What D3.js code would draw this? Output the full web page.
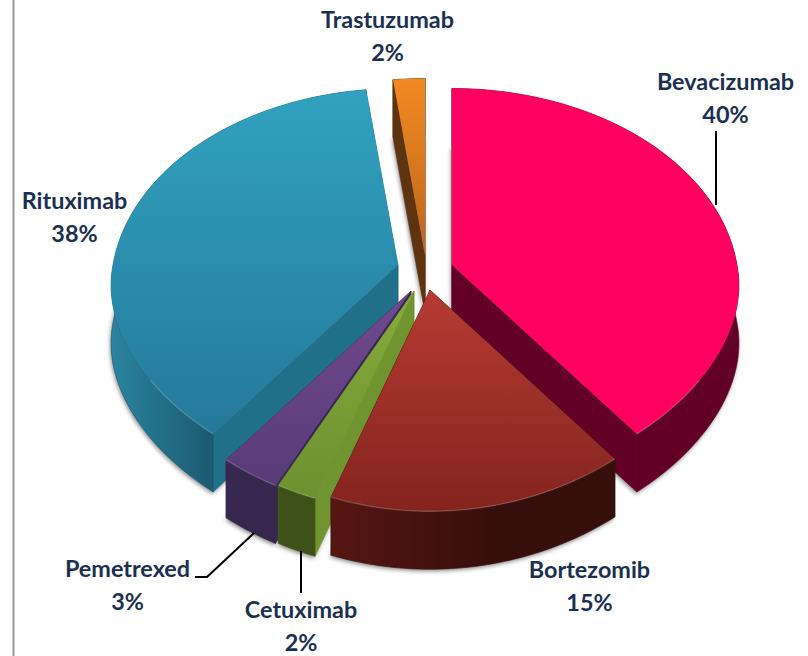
<!DOCTYPE html>
<html>
<head>
<meta charset="utf-8">
<script src="https://cdn.jsdelivr.net/npm/d3@7"></script>
<style>
  html, body { margin: 0; padding: 0; background: #fff; }
  svg { display: block; }
  text { font-family: Lato, "Open Sans", sans-serif; font-weight: 700; fill: #1b3050; font-size: 23.4px; text-anchor: middle; }
</style>
</head>
<body>
<div id="chart"></div>
<script>
const categories = ['Bevacizumab', 'Bortezomib', 'Cetuximab', 'Pemetrexed', 'Rituximab', 'Trastuzumab'];
const shares = [40, 15, 2, 3, 38, 2];

const width = 808;
const height = 656;
const rx = 285;
const ryBack = 197;
const ryFront = 168.6;
const perspective = 0.116;
const perspectiveFront = 0.238;
const depth = 58;

// exploded apex of every slice, and its label
const apexes = [[452, 265], [430, 290], [414, 291], [411, 291], [398, 265], [425, 255]];
const labelPos = [[725.5, 90], [589.5, 578], [301, 618], [127.5, 577], [74.5, 209], [387.5, 28]];
const topColors = [['#ff0060', '#ff0060'], ['#b63b33', '#84231e'], ['#85ac3a', '#6c9030'], ['#70498f', '#593b78'], ['#30a2c0', '#25799a'], ['#f28a22', '#bc661c']];
const wallColors = [['#620026', '#620026'], ['#561612', '#360e0c'], ['#46601c', '#3c5218'], ['#3e2b55', '#37264d'], ['#2a83a0', '#195469'], ['#5e3410', '#5e3410']];
const faceColors = ['#620026', '#3a100e', '#6f9430', '#3a2850', '#20708a', '#5e3410'];
const leaders = [
  [[716, 131], [716, 205]],
  [[195, 577], [207, 577], [254, 533]],
  [[301, 551], [301, 593]]
];

const svg = d3.select('#chart').append('svg')
    .attr('width', width)
    .attr('height', height);
const defs = svg.append('defs');

defs.append('filter')
    .attr('id', 'soft')
    .attr('x', '-10%').attr('y', '-10%')
    .attr('width', '120%').attr('height', '120%')
  .append('feGaussianBlur')
    .attr('stdDeviation', 2.2);

function gradient(id, colors, attrs) {
  const g = defs.append('linearGradient').attr('id', id);
  Object.keys(attrs).forEach(function(k) {
    g.attr(k, attrs[k]);
  });
  g.append('stop').attr('offset', 0).attr('stop-color', colors[0]);
  g.append('stop').attr('offset', 1).attr('stop-color', colors[1]);
}

// pie angles run clockwise from 12 o'clock, tilted onto an ellipse
const pie = d3.pie().sort(null).value(function(d) {
  return d;
});
const arcs = pie(shares);

function project(i, angle, drop) {
  const c = Math.cos(angle);
  const x = rx * Math.sin(angle) / (1 + perspective * c);
  const y = c >= 0 ?
    ryBack * c / (1 + perspective * c) :
    ryFront * c / (1 + perspectiveFront * c);
  return [apexes[i][0] + x, apexes[i][1] - y + (drop || 0)];
}

function arcPoints(i, a0, a1, drop) {
  const n = Math.max(2, Math.ceil(Math.abs(a1 - a0) / 0.02));
  return d3.range(n + 1).map(function(k) {
    return project(i, a0 + (a1 - a0) * k / n, drop);
  });
}

const line = d3.line();
const closed = d3.line().curve(d3.curveLinearClosed);

function wallPath(i) {
  const a = arcs[i];
  return closed(arcPoints(i, a.startAngle, a.endAngle, 0)
      .concat(arcPoints(i, a.endAngle, a.startAngle, depth)));
}

function facePath(i, angle) {
  return closed([
    apexes[i],
    project(i, angle, 0),
    project(i, angle, depth),
    [apexes[i][0], apexes[i][1] + depth]
  ]);
}

function discPath(i, drop) {
  const a = arcs[i];
  return closed([[apexes[i][0], apexes[i][1] + drop]]
      .concat(arcPoints(i, a.startAngle, a.endAngle, drop)));
}

categories.forEach(function(c, i) {
  gradient('top-' + i, topColors[i], {x1: 0, y1: 0, x2: 0, y2: 1});
  gradient('wall-' + i, wallColors[i], {
    gradientUnits: 'userSpaceOnUse',
    x1: i === 1 ? 333 : apexes[i][0] - rx,
    x2: i === 1 ? 500 : apexes[i][0] - rx * 0.6,
    y1: 0,
    y2: 0
  });
});

// left frame rule of the slide
svg.append('line')
    .attr('x1', 13.5).attr('x2', 13.5)
    .attr('y1', 0).attr('y2', height)
    .attr('stroke', '#999')
    .attr('stroke-width', 2);

// painter's order, back to front
const order = [5, 0, 4, 3, 2, 1];

order.forEach(function(i) {
  const a = arcs[i];
  const g = svg.append('g').attr('class', 'slice');

  // soft shadow of the slice's base
  g.append('path')
      .attr('d', discPath(i, depth + 2))
      .attr('transform', 'translate(-1,0)')
      .attr('fill', '#000')
      .attr('opacity', 0.45)
      .attr('filter', 'url(#soft)');

  [a.startAngle, a.endAngle].forEach(function(angle) {
    g.append('path')
        .attr('d', facePath(i, angle))
        .attr('fill', faceColors[i])
        .attr('stroke', faceColors[i])
        .attr('stroke-width', 0.6);
  });

  g.append('path')
      .attr('d', wallPath(i))
      .attr('fill', 'url(#wall-' + i + ')')
      .attr('stroke', wallColors[i][1])
      .attr('stroke-width', 0.6);

  g.append('path')
      .attr('d', discPath(i, 0))
      .attr('fill', 'url(#top-' + i + ')');

  // bevel highlight on the part of the rim that faces the viewer
  const a0 = Math.max(a.startAngle, Math.PI * 0.7);
  const a1 = Math.min(a.endAngle, Math.PI * 1.3);
  if (a1 > a0) {
    g.append('path')
        .attr('d', line(arcPoints(i, a0, a1, 0)))
        .attr('fill', 'none')
        .attr('stroke', '#fff')
        .attr('stroke-opacity', 0.18)
        .attr('stroke-width', 1.4);
  }
});

leaders.forEach(function(pts) {
  svg.append('path')
      .attr('d', line(pts))
      .attr('fill', 'none')
      .attr('stroke', '#000')
      .attr('stroke-width', 2);
});

categories.forEach(function(c, i) {
  const t = svg.append('text')
      .attr('x', labelPos[i][0])
      .attr('y', labelPos[i][1]);
  t.append('tspan').text(c);
  t.append('tspan')
      .attr('x', labelPos[i][0])
      .attr('dy', 33)
      .text(shares[i] + '%');
});
</script>
</body>
</html>
